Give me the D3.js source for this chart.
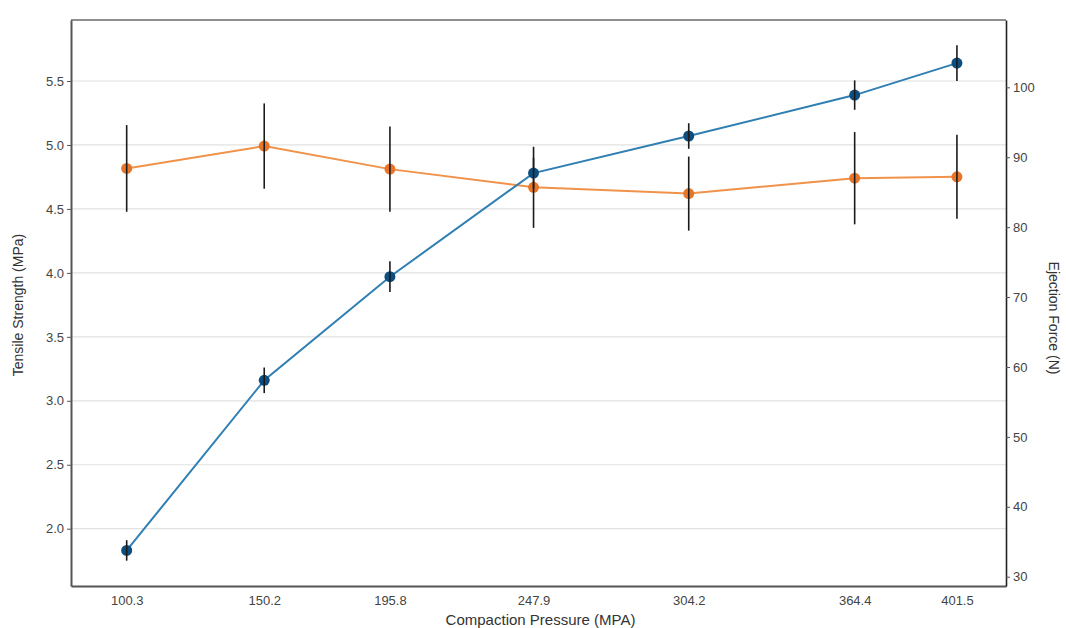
<!DOCTYPE html>
<html>
<head>
<meta charset="utf-8">
<script src="https://cdn.jsdelivr.net/npm/d3@7"></script>
<style>
  body { margin: 0; background: #fff; }
  text { font-family: "Liberation Sans", Arial, sans-serif; }
</style>
</head>
<body>
<div id="chart"></div>
<script>
// compaction pressure (x values)
var pressure = [100.3, 150.2, 195.8, 247.9, 304.2, 364.4, 401.5];

// tensile strength, left axis (blue)
var tensile = [1.83, 3.16, 3.97, 4.78, 5.07, 5.39, 5.64];
var tensileErr = [0.08, 0.10, 0.12, 0.12, 0.10, 0.115, 0.14];

// ejection force, right axis (orange)
var ejection = [88.4, 91.6, 88.3, 85.7, 84.8, 87.0, 87.2];
var ejectionErr = [6.2, 6.1, 6.1, 5.8, 5.3, 6.6, 6.0];

var leftTicks = [2.0, 2.5, 3.0, 3.5, 4.0, 4.5, 5.0, 5.5];
var rightTicks = [30, 40, 50, 60, 70, 80, 90, 100];

var margin = {top: 20, right: 60, bottom: 42, left: 71},
    width = 1066 - margin.left - margin.right,
    height = 628 - margin.top - margin.bottom;

var svg = d3.select("#chart")
  .append("svg")
    .attr("width", 1066)
    .attr("height", 628)
  .append("g")
    .attr("transform", "translate(" + margin.left + "," + margin.top + ")");

var x = d3.scaleLinear().domain([80.1, 419.3]).range([0, width]);
var yL = d3.scaleLinear().domain([1.552, 5.977]).range([height, 0]);
var yR = d3.scaleLinear().domain([28.67, 109.63]).range([height, 0]);

// gridlines
svg.append("g")
  .selectAll("line")
  .data(leftTicks)
  .enter().append("line")
    .attr("x1", 0).attr("x2", width)
    .attr("y1", function(d) { return yL(d); })
    .attr("y2", function(d) { return yL(d); })
    .attr("stroke", "#e2e2e2")
    .attr("stroke-width", 1.2);

// frame top
svg.append("line")
  .attr("x1", 0).attr("x2", width).attr("y1", 0).attr("y2", 0)
  .attr("stroke", "#6a6a6a").attr("stroke-width", 1.5);

// axes
var gx = svg.append("g")
  .attr("transform", "translate(0," + height + ")")
  .call(d3.axisBottom(x).tickValues(pressure).tickSize(0).tickSizeOuter(0).tickPadding(10).tickFormat(d3.format(".1f")));
gx.select(".domain").attr("stroke", "#555").attr("stroke-width", 2);

var gl = svg.append("g")
  .call(d3.axisLeft(yL).tickValues(leftTicks).tickSizeInner(4).tickSizeOuter(0).tickPadding(3).tickFormat(d3.format(".1f")));
gl.select(".domain").attr("stroke", "#555").attr("stroke-width", 2);

var gr = svg.append("g")
  .attr("transform", "translate(" + width + ",0)")
  .call(d3.axisRight(yR).tickValues(rightTicks).tickSizeInner(4).tickSizeOuter(0).tickPadding(3));
gr.select(".domain").attr("stroke", "#222").attr("stroke-width", 1.6);

svg.selectAll(".tick text").attr("fill", "#444").style("font-size", "13px");
svg.selectAll(".tick line").attr("stroke", "#555");

// axis titles
svg.append("text")
  .attr("x", width / 2 + 2)
  .attr("y", height + 39)
  .attr("text-anchor", "middle")
  .attr("fill", "#333")
  .style("font-size", "15px")
  .text("Compaction Pressure (MPA)");

svg.append("text")
  .attr("transform", "translate(-48," + (height / 2 + 2) + ") rotate(-90)")
  .attr("text-anchor", "middle")
  .attr("fill", "#333")
  .style("font-size", "14px")
  .text("Tensile Strength (MPa)");

svg.append("text")
  .attr("transform", "translate(" + (width + 43) + "," + (height / 2 + 15) + ") rotate(90)")
  .attr("text-anchor", "middle")
  .attr("fill", "#333")
  .style("font-size", "14px")
  .text("Ejection Force (N)");

// series helper
function drawSeries(vals, errs, y, lineColor, dotColor) {
  var line = d3.line()
    .x(function(d, i) { return x(pressure[i]); })
    .y(function(d) { return y(d); });

  svg.append("path")
    .datum(vals)
    .attr("fill", "none")
    .attr("stroke", lineColor)
    .attr("stroke-width", 2)
    .attr("d", line);

  svg.append("g")
    .selectAll("circle")
    .data(vals)
    .enter().append("circle")
      .attr("cx", function(d, i) { return x(pressure[i]); })
      .attr("cy", function(d) { return y(d); })
      .attr("r", 5.5)
      .attr("fill", dotColor);

  svg.append("g")
    .selectAll("line")
    .data(vals)
    .enter().append("line")
      .attr("x1", function(d, i) { return x(pressure[i]); })
      .attr("x2", function(d, i) { return x(pressure[i]); })
      .attr("y1", function(d, i) { return y(d + errs[i]); })
      .attr("y2", function(d, i) { return y(d - errs[i]); })
      .attr("stroke", "#1a1a1a")
      .attr("stroke-width", 1.6);
}

drawSeries(ejection, ejectionErr, yR, "#f0924a", "#e8762a");
drawSeries(tensile, tensileErr, yL, "#2f7fb2", "#0e4e7e");
</script>
</body>
</html>
